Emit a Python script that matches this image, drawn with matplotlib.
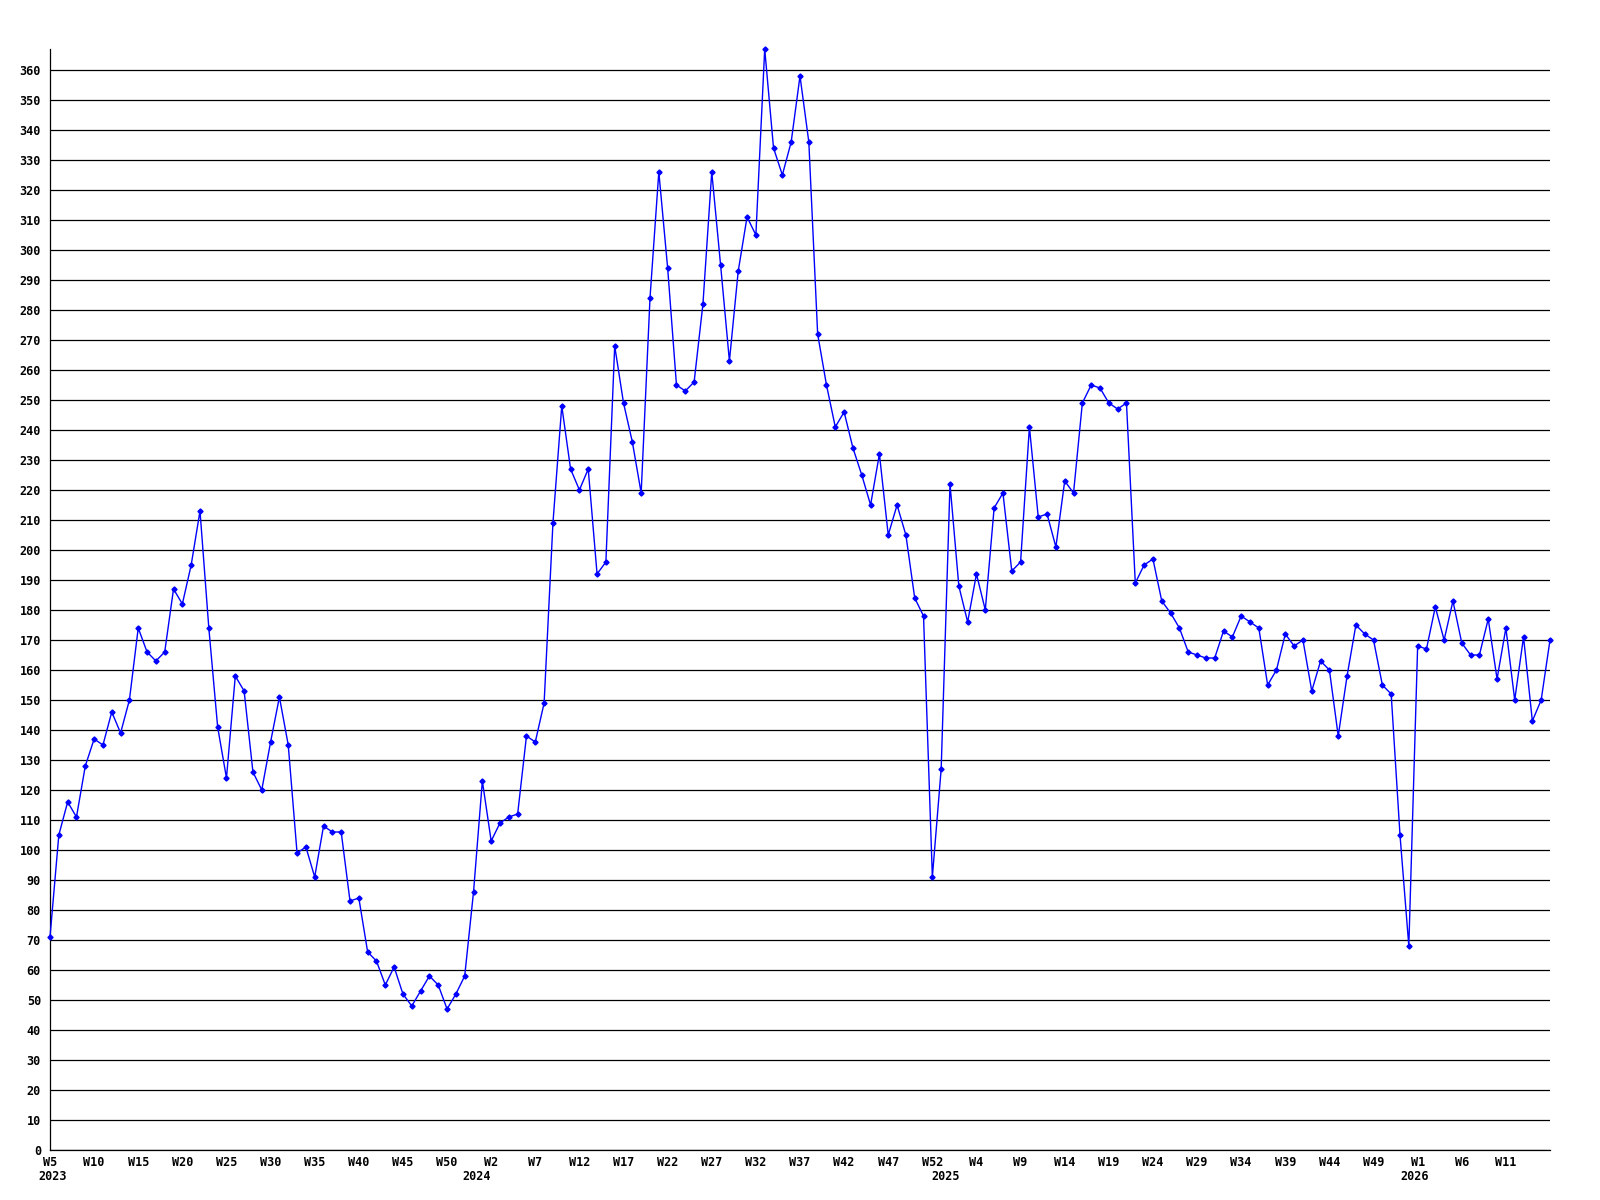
import matplotlib
matplotlib.use('Agg')
import matplotlib.pyplot as plt

# weekly values, 2023 W5 .. 2026 (one value per week slot)
values = [
    71, 105, 116, 111, 128, 137, 135, 146, 139, 150,
    174, 166, 163, 166, 187, 182, 195, 213, 174, 141,
    124, 158, 153, 126, 120, 136, 151, 135, 99, 101,
    91, 108, 106, 106, 83, 84, 66, 63, 55, 61,
    52, 48, 53, 58, 55, 47, 52, 58, 86, 123,
    103, 109, 111, 112, 138, 136, 149, 209, 248, 227,
    220, 227, 192, 196, 268, 249, 236, 219, 284, 326,
    294, 255, 253, 256, 282, 326, 295, 263, 293, 311,
    305, 367, 334, 325, 336, 358, 336, 272, 255, 241,
    246, 234, 225, 215, 232, 205, 215, 205, 184, 178,
    91, 127, 222, 188, 176, 192, 180, 214, 219, 193,
    196, 241, 211, 212, 201, 223, 219, 249, 255, 254,
    249, 247, 249, 189, 195, 197, 183, 179, 174, 166,
    165, 164, 164, 173, 171, 178, 176, 174, 155, 160,
    172, 168, 170, 153, 163, 160, 138, 158, 175, 172,
    170, 155, 152, 105, 68, 168, 167, 181, 170, 183,
    169, 165, 165, 177, 157, 174, 150, 171, 143, 150,
    170,
]

week_labels = [
    'W5', 'W10', 'W15', 'W20', 'W25', 'W30', 'W35', 'W40', 'W45', 'W50',
    'W2', 'W7', 'W12', 'W17', 'W22', 'W27', 'W32', 'W37', 'W42', 'W47', 'W52',
    'W4', 'W9', 'W14', 'W19', 'W24', 'W29', 'W34', 'W39', 'W44', 'W49',
    'W1', 'W6', 'W11',
]
years = ['2023', '2024', '2025', '2026']
year_pos = [0.3, 48.4, 101.5, 154.7]

x = list(range(len(values)))
font = dict(family='DejaVu Sans Mono', fontweight='bold', fontsize=8.5)

fig = plt.figure(figsize=(16, 12), dpi=100)
ax = fig.add_axes([50 / 1600, 50 / 1200, 1500 / 1600, 1101 / 1200])

ax.set_axisbelow(True)
ax.plot(x, values, color='#0000ff', lw=1, marker='D', markersize=2.6, zorder=3, clip_on=False)

ax.set_xlim(0, len(values) - 1)
ax.set_ylim(0, max(values))
ax.set_yticks(range(0, 361, 10))
ax.set_yticklabels([str(v) for v in range(0, 361, 10)], **font)
ax.set_xticks(range(0, 5 * len(week_labels), 5))
ax.set_xticklabels(week_labels, **font)
ax.tick_params(axis='both', length=0)
ax.tick_params(axis='y', pad=6.5)
ax.tick_params(axis='x', pad=4)

ax.grid(axis='y', color='black', lw=0.9)
ax.grid(axis='x', visible=False)
for s in ['top', 'right']:
    ax.spines[s].set_visible(False)
for s in ['left', 'bottom']:
    ax.spines[s].set_color('black')
    ax.spines[s].set_linewidth(0.9)

for yr, p in zip(years, year_pos):
    ax.text(p, -0.0245, yr, transform=ax.get_xaxis_transform(),
            ha='center', va='center', **font)

fig.savefig('out.png', dpi=100, facecolor='white')
